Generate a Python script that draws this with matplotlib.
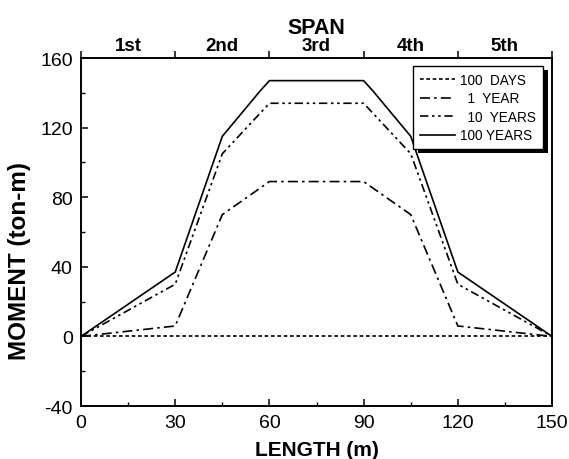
import matplotlib
matplotlib.use("Agg")
import matplotlib.pyplot as plt
from matplotlib.patches import Rectangle

plt.rcParams['font.family'] = ['Liberation Sans', 'DejaVu Sans']
plt.rcParams['axes.unicode_minus'] = False

# Data
length = [0, 30, 45, 57, 60, 90, 93, 105, 120, 150]
days100 = [0, 0, 0, 0, 0, 0, 0, 0, 0, 0]
x_mid = [0, 30, 45, 60, 90, 105, 120, 150]
year1 = [0, 6, 70, 89, 89, 70, 6, 0]
years10 = [0, 30, 105, 134, 134, 105, 30, 0]
years100 = [0, 37, 115, 141, 147, 147, 141, 115, 37, 0]

span_labels = ["1st", "2nd", "3rd", "4th", "5th"]
span_pos = [15, 45, 75, 105, 135]
span_edges = [0, 30, 60, 90, 120, 150]

fig = plt.figure(figsize=(5.69, 4.6), dpi=100)
ax = fig.add_axes([0.1424, 0.1152, 0.8278, 0.7565])

lw = 1.2
ax.plot(length, days100, color='black', lw=lw, ls=(0, (2.2, 1.6)), label='100  DAYS')
ax.plot(x_mid, year1, color='black', lw=lw, ls=(0, (6, 2.5, 1.5, 2.5)), label='  1  YEAR')
ax.plot(x_mid, years10, color='black', lw=lw, ls=(0, (5, 2.2, 1.5, 2.2, 1.5, 2.2)), label='  10  YEARS')
ax.plot(length, years100, color='black', lw=lw, ls='-', label='100 YEARS')

ax.set_xlim(0, 150)
ax.set_ylim(-40, 160)
ax.set_xticks([0, 30, 60, 90, 120, 150])
ax.set_xticks([15, 45, 75, 105, 135], minor=True)
ax.set_yticks([-40, 0, 40, 80, 120, 160])
ax.set_yticks([-20, 20, 60, 100, 140], minor=True)
ax.tick_params(axis='both', which='major', direction='in', length=5, width=1.1, labelsize=14)
ax.tick_params(axis='x', which='major', pad=6)
ax.tick_params(axis='y', which='major', pad=6)
ax.tick_params(axis='both', which='minor', direction='in', length=3, width=1.0)
ax.tick_params(top=False, right=False, which='both')
for s in ax.spines.values():
    s.set_linewidth(1.2)

ax.set_xlabel('LENGTH (m)', fontsize=15, fontweight='bold', labelpad=6)
ax.set_ylabel('MOMENT (ton-m)', fontsize=17.5, fontweight='bold')
ax.yaxis.set_label_coords(-0.107, 0.42)

top = ax.twiny()
top.set_xlim(0, 150)
top.set_xticks(span_edges)
top.set_xticklabels([''] * len(span_edges))
top.set_xticks(span_pos, minor=True)
top.set_xticklabels(span_labels, minor=True, fontsize=13.5, fontweight='bold')
top.tick_params(axis='x', which='major', direction='out', length=5, width=1.1)
top.tick_params(axis='x', which='minor', length=0, pad=3)
top.set_xlabel('SPAN', fontsize=15.5, fontweight='bold', labelpad=3)
for s in top.spines.values():
    s.set_linewidth(1.2)

leg = ax.legend(loc='upper right', bbox_to_anchor=(0.981, 0.977), fontsize=9.8,
                frameon=True, fancybox=False, edgecolor='black', framealpha=1,
                handlelength=2.6, handletextpad=0.4, labelspacing=0.33,
                borderpad=0.5, borderaxespad=0)
leg.get_frame().set_linewidth(1.0)
leg.set_zorder(10)

fig.canvas.draw()
bb = leg.get_window_extent()
shadow = Rectangle((bb.x0 + 5, bb.y0 - 4), bb.width, bb.height, transform=None,
                   facecolor='black', edgecolor='none', zorder=9, clip_on=False)
ax.add_artist(shadow)

fig.savefig('out.png', dpi=100)
